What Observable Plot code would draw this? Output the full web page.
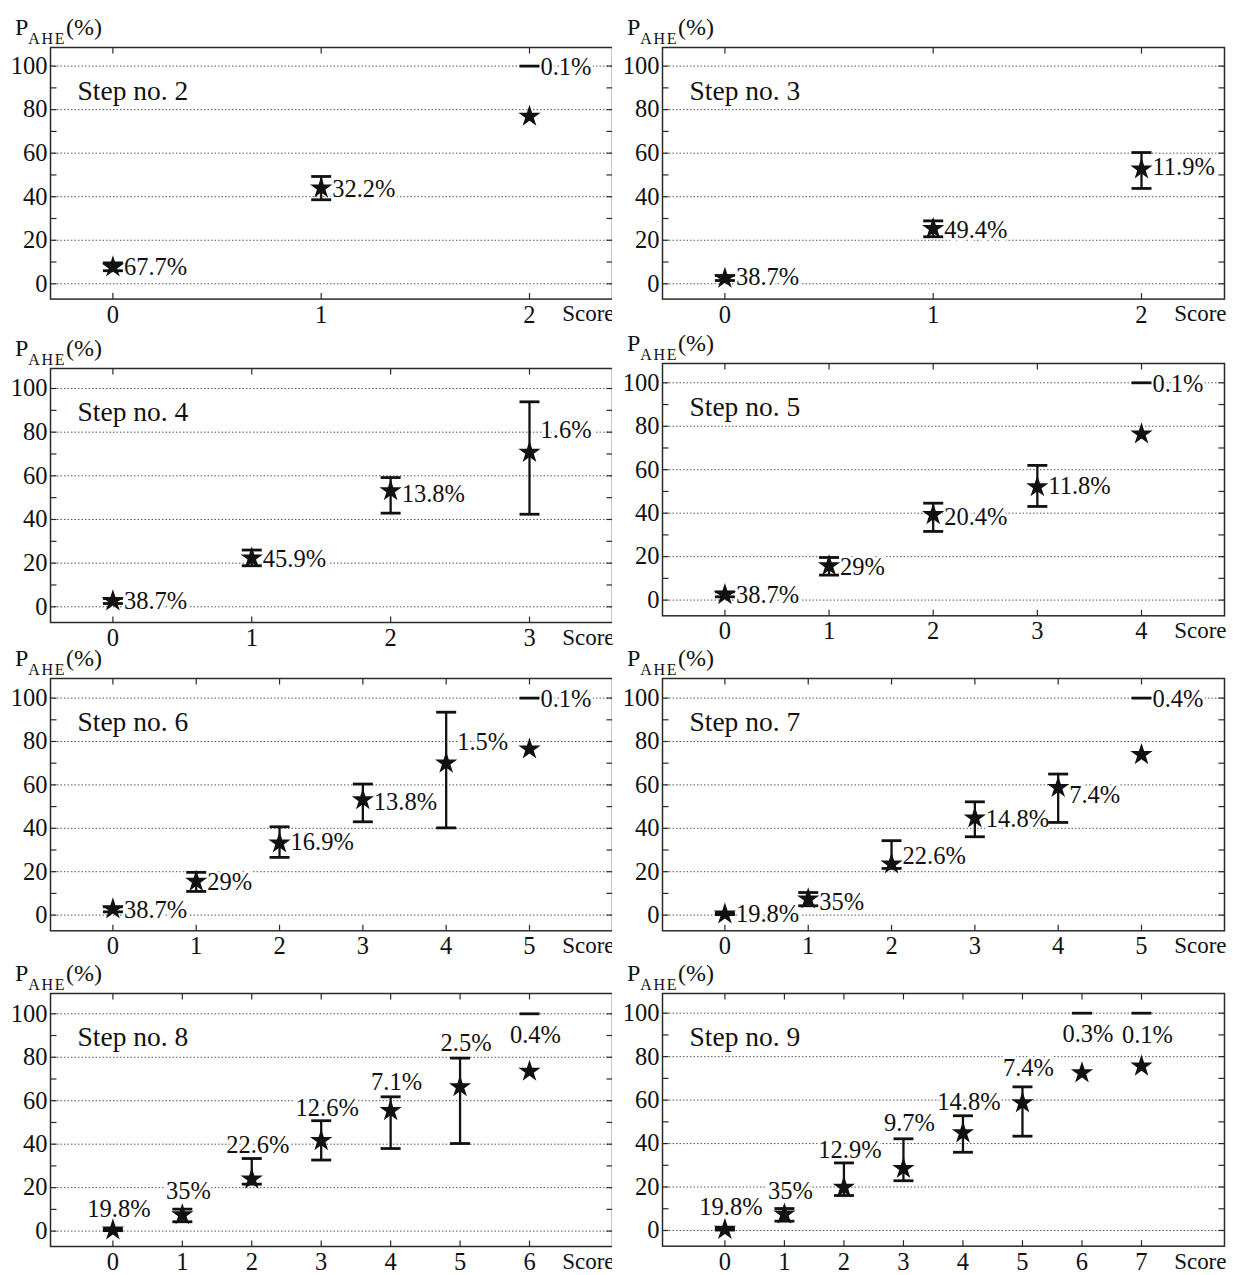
<!DOCTYPE html>
<html><head><meta charset="utf-8">
<script src="https://cdn.jsdelivr.net/npm/d3@7"></script>
<script src="https://cdn.jsdelivr.net/npm/@observablehq/plot@0.6"></script>
<style>
body{margin:0;background:#fff;}
#root{position:relative;width:1233px;height:1275px;overflow:hidden;font-family:"Liberation Serif",serif;background:#fff;}
.panel{position:absolute;}
.ylab{position:absolute;font-size:24px;line-height:24px;color:#111;white-space:nowrap;}
.ylab .sub{font-size:16px;letter-spacing:1.6px;position:relative;top:9px;}
.mask{position:absolute;background:#fff;}
</style></head><body><div id="root"></div>
<script>
// ---------------- data ----------------
const stepNumbers = [2, 3, 4, 5, 6, 7, 8, 9];
const yTickValues = [0, 20, 40, 60, 80, 100];
const axisTitle = "Score";

// mean P_AHE (%) per score, one array per step
const pMean = [
  [7.7, 44.0, 76.9],
  [2.5, 25.4, 52.7],
  [2.7, 22.3, 53.1, 70.7],
  [2.5, 15.8, 39.3, 52.1, 76.4],
  [2.8, 15.5, 33.2, 53.1, 70.0, 76.5],
  [0.5, 7.4, 23.5, 44.7, 58.8, 73.9],
  [0.5, 7.5, 23.9, 41.6, 55.4, 66.4, 73.5],
  [0.5, 7.5, 19.8, 28.5, 44.9, 58.7, 72.5, 75.6]
];
// lower confidence bound (null = none shown)
const ciLow = [
  [6.0, 38.6, null],
  [1.5, 21.6, 43.8],
  [1.5, 18.8, 42.9, 42.4],
  [1.5, 11.5, 31.6, 43.1, null],
  [1.5, 10.9, 26.6, 43.0, 40.2, null],
  [0.2, 4.3, 21.5, 36.1, 42.7, null],
  [0.2, 4.3, 21.6, 32.7, 38.0, 40.3, null],
  [0.2, 4.3, 16.1, 22.9, 36.0, 43.4, null, null]
];
// upper confidence bound
const ciHigh = [
  [9.6, 49.3, 100],
  [3.8, 28.9, 60.3],
  [3.8, 26.0, 59.2, 93.9],
  [3.8, 19.6, 44.6, 62.0, 100],
  [3.8, 19.7, 40.7, 60.4, 93.5, 100],
  [1.0, 10.4, 34.3, 52.2, 65.0, 100],
  [1.0, 10.1, 33.4, 50.8, 61.8, 79.6, 100],
  [1.0, 10.1, 31.1, 42.2, 52.8, 66.1, 100, 100]
];
// share of patients per score (labels)
const shareLabels = [
  ["67.7%", "32.2%", "0.1%"],
  ["38.7%", "49.4%", "11.9%"],
  ["38.7%", "45.9%", "13.8%", "1.6%"],
  ["38.7%", "29%", "20.4%", "11.8%", "0.1%"],
  ["38.7%", "29%", "16.9%", "13.8%", "1.5%", "0.1%"],
  ["19.8%", "35%", "22.6%", "14.8%", "7.4%", "0.4%"],
  ["19.8%", "35%", "22.6%", "12.6%", "7.1%", "2.5%", "0.4%"],
  ["19.8%", "35%", "12.9%", "9.7%", "14.8%", "7.4%", "0.3%", "0.1%"]
];
// value (y) at which each share label sits
const labelAt = [
  [7.5, 43.5, 99.4],
  [2.9, 24.7, 53.4],
  [2.4, 21.8, 51.6, 80.9],
  [2.5, 15.3, 38.0, 52.6, 99.4],
  [2.3, 15.0, 33.8, 51.9, 79.6, 99.5],
  [0.5, 6.1, 27.3, 44.2, 55.1, 99.5],
  [10.1, 18.6, 39.6, 56.6, 68.4, 86.3, 90.3],
  [10.6, 18.1, 37.0, 49.5, 59.2, 74.5, 90.3, 89.9]
];
const labelAbove = [false, false, false, false, false, false, true, true];

// ---------------- layout ----------------
const layout = [
  {left: 0,   width: 615, mr: 3, top: 46.7,  h: 251.6, t: 18.6, b: 15.3},
  {left: 612, width: 621, mr: 9, top: 46.7,  h: 251.6, t: 18.6, b: 15.3},
  {left: 0,   width: 615, mr: 3, top: 367.7, h: 254.0, t: 20.0, b: 15.7},
  {left: 612, width: 621, mr: 9, top: 362.7, h: 252.3, t: 19.3, b: 15.7},
  {left: 0,   width: 615, mr: 3, top: 677.7, h: 252.3, t: 19.6, b: 15.7},
  {left: 612, width: 621, mr: 9, top: 677.7, h: 252.3, t: 19.6, b: 15.7},
  {left: 0,   width: 615, mr: 3, top: 992.7, h: 253.0, t: 20.3, b: 15.4},
  {left: 612, width: 621, mr: 9, top: 993.3, h: 252.7, t: 19.7, b: 15.7}
];

const ink = "#111";
const capSym = {draw(ctx) { ctx.moveTo(-10, 0); ctx.lineTo(10, 0); }};
const tickSym = (dx, dy) => ({draw(ctx) { ctx.moveTo(0, 0); ctx.lineTo(dx, dy); }});
const yMinor = d3.range(0, 101, 10);

const root = document.getElementById("root");
const mt = 12, mb = 27, ml = 50;

stepNumbers.forEach((step, i) => {
  const L = layout[i];
  const n = pMean[i].length;
  const rows = pMean[i].map((m, k) => ({
    score: k, mean: m, lo: ciLow[i][k], hi: ciHigh[i][k],
    label: shareLabels[i][k], ly: labelAt[i][k]
  }));
  const above = labelAbove[i];
  const xTicks = d3.range(0, n);
  const height = mt + L.h + mb;
  const svg = Plot.plot({
    width: L.width, height,
    marginTop: mt, marginBottom: mb, marginLeft: ml, marginRight: L.mr,
    style: {fontFamily: '"Liberation Serif", serif', fontSize: "24px", color: ink, background: "white", overflow: "visible"},
    x: {domain: [0, n - 1], range: [112.4, 529]},
    y: {domain: [0, 100], range: [mt + L.h - L.b, mt + L.t]},
    marks: [
      Plot.gridY(yTickValues, {stroke: "#555", strokeOpacity: 1, strokeWidth: 1, strokeDasharray: "1.5,2"}),
      Plot.text(rows, {x: "score", y: "ly", text: "label",
        textAnchor: above ? "middle" : "start", dx: above ? 6 : 11,
        fill: ink, stroke: "white", strokeWidth: 6, fontSize: 24.5, ariaLabel: "share"}),
      Plot.ruleX(rows.filter(d => d.lo != null && d.hi != null), {x: "score", y1: "lo", y2: "hi", stroke: ink, strokeWidth: 2.3}),
      Plot.dot(rows.filter(d => d.lo != null), {x: "score", y: "lo", symbol: capSym, stroke: ink, fill: "none", strokeWidth: 2.8}),
      Plot.dot(rows.filter(d => d.hi != null), {x: "score", y: "hi", symbol: capSym, stroke: ink, fill: "none", strokeWidth: 2.8}),
      Plot.dot(rows, {x: "score", y: "mean", symbol: "star", r: 7, fill: ink, stroke: null}),
      Plot.frame({stroke: "#2a2a2a", strokeWidth: 1.5}),
      Plot.dot(yMinor, {y: d => d, frameAnchor: "left", symbol: tickSym(6, 0), stroke: "#2a2a2a", fill: "none", strokeWidth: 1.2}),
      Plot.dot(yMinor, {y: d => d, frameAnchor: "right", symbol: tickSym(-6, 0), stroke: "#2a2a2a", fill: "none", strokeWidth: 1.2}),
      Plot.dot(xTicks, {x: d => d, frameAnchor: "top", symbol: tickSym(0, 6), stroke: "#2a2a2a", fill: "none", strokeWidth: 1.2}),
      Plot.dot(xTicks, {x: d => d, frameAnchor: "bottom", symbol: tickSym(0, -6), stroke: "#2a2a2a", fill: "none", strokeWidth: 1.2}),
      Plot.axisY({ticks: yTickValues, tickSize: 0, tickPadding: 3, fontSize: 24.5, label: null, fill: ink}),
      Plot.axisX({ticks: xTicks, tickFormat: d3.format("d"), tickSize: 0, tickPadding: 6, fontSize: 24.5, label: null, fill: ink}),
      Plot.text([axisTitle], {text: d => d, frameAnchor: "bottom-right", textAnchor: "end", lineAnchor: "top", dy: 6, dx: 2, fontSize: 23, fill: ink, ariaLabel: "score-title"}),
      Plot.text([`Step no. ${step}`], {text: d => d, frameAnchor: "top-left", textAnchor: "start", lineAnchor: "top", dx: 27, dy: 33, fontSize: 27.5, fill: ink, ariaLabel: "step-label"})
    ]
  });
  d3.select(svg).selectAll('g[aria-label="step-label"] text').style("letter-spacing", "1px");
  d3.select(svg).selectAll('g[aria-label="score-title"] text').style("letter-spacing", "1px");
  d3.select(svg).selectAll('g[aria-label="share"] text').style("letter-spacing", "0.3px");
  const wrap = document.createElement("div");
  wrap.className = "panel";
  wrap.style.left = L.left + "px";
  wrap.style.top = (L.top - mt) + "px";
  wrap.appendChild(svg);
  root.appendChild(wrap);
});

// clip bottom of step 4 tick labels as in the original page layout
const mask = document.createElement("div");
mask.className = "mask";
mask.style.left = "0px"; mask.style.top = "650px"; mask.style.width = "612px"; mask.style.height = "15px";
root.appendChild(mask);

// y-axis titles P_AHE(%)
stepNumbers.forEach((step, i) => {
  const L = layout[i];
  const lab = document.createElement("div");
  lab.className = "ylab";
  lab.innerHTML = 'P<span class="sub">AHE</span>(%)';
  lab.style.left = (L.left + ml - 35) + "px";
  lab.style.top = (L.top - 32) + "px";
  root.appendChild(lab);
});
</script></body></html>
